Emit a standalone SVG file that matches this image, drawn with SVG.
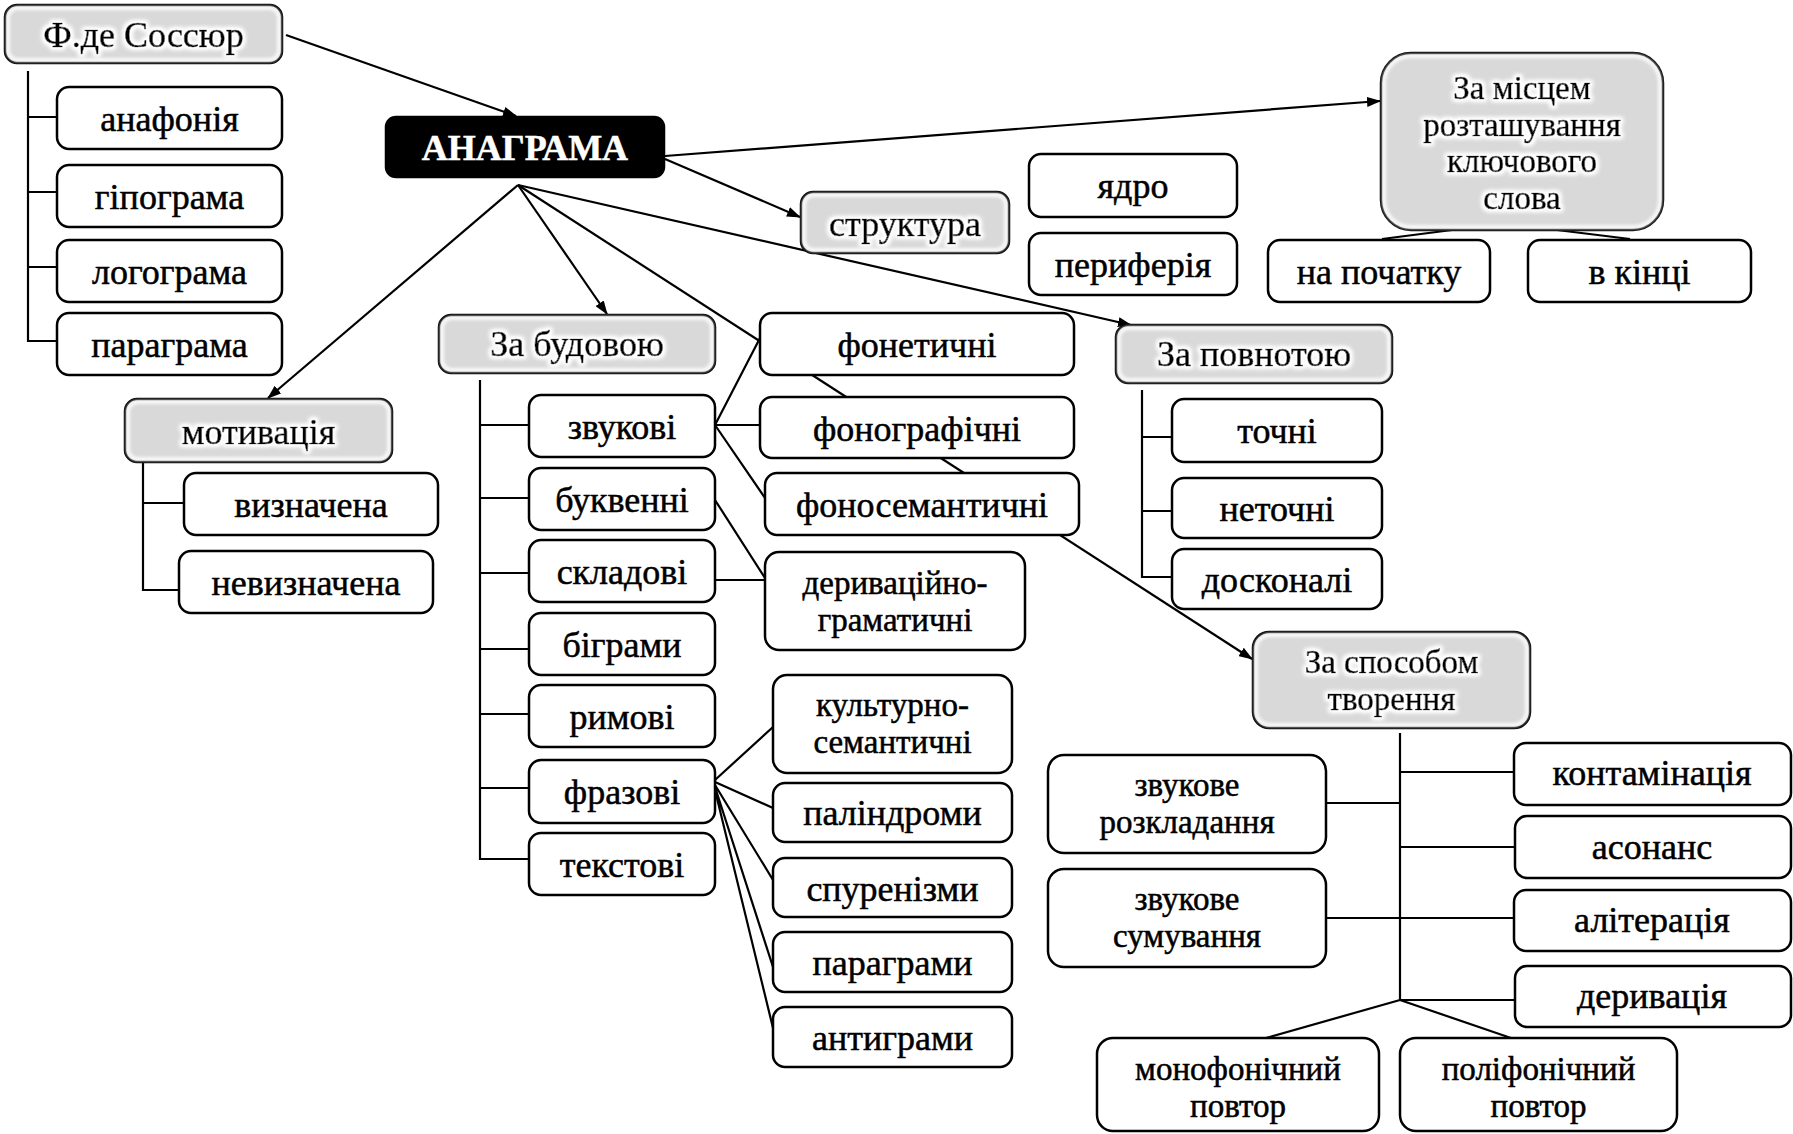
<svg xmlns="http://www.w3.org/2000/svg" width="1793" height="1134" viewBox="0 0 1793 1134">
<style>
  .bx { fill: #ffffff; stroke: #000; stroke-width: 2.5; }
  .gr { fill: #d9d9d9; stroke: #000; stroke-width: 2.5; }
  .rim { fill: none; stroke: #ffffff; stroke-width: 4; opacity: 0.85; filter: url(#soft); }
  .bk { fill: #000; stroke: #000; stroke-width: 2.5; }
  text { font-family: "Liberation Serif", "Times New Roman", serif; font-size: 36px; fill: #000; stroke: #000; stroke-width: 0.5; text-anchor: middle; }
  .ml { font-size: 33px; }
  .gt { filter: url(#halo); stroke-width: 0.7; }
  .wt { fill: #fff; stroke: #fff; font-weight: bold; }
  .ln { fill: none; stroke: #000; stroke-width: 2.2; }
  .ar { fill: none; stroke: #000; stroke-width: 2.2; marker-end: url(#ah); }
</style>
<defs>
  <marker id="ah" viewBox="0 0 14 10" refX="13" refY="5" markerWidth="14" markerHeight="10" markerUnits="userSpaceOnUse" orient="auto">
    <path d="M0,0 L14,5 L0,10 z" fill="#000"/>
  </marker>
  <filter id="halo" x="-10%" y="-30%" width="120%" height="160%">
    <feMorphology in="SourceAlpha" operator="dilate" radius="1.5" result="d"/>
    <feGaussianBlur in="d" stdDeviation="2" result="b"/>
    <feFlood flood-color="#ffffff"/>
    <feComposite in2="b" operator="in" result="w"/>
    <feMerge><feMergeNode in="w"/><feMergeNode in="w"/><feMergeNode in="SourceGraphic"/></feMerge>
  </filter>
  <filter id="soft" x="-5%" y="-10%" width="110%" height="120%">
    <feGaussianBlur stdDeviation="1.5"/>
  </filter>
</defs>
<rect width="1793" height="1134" fill="#fff"/>

<g id="connectors">
  <path class="ar" d="M518,185 L1252,659"/>
  <path class="ar" d="M286,35 L516,116"/>
  <path class="ar" d="M518,185 L268,398"/>
  <path class="ar" d="M518,185 L607,314"/>
  <path class="ar" d="M665,159 L800,217"/>
  <path class="ar" d="M665,156 L1380,101"/>
  <path class="ar" d="M518,185 L1131,325"/>
  <path class="ln" d="M28,71 V341 H57 M28,117 H57 M28,192 H57 M28,267 H57"/>
  <path class="ln" d="M143,462 V590 H179 M143,503 H184"/>
  <path class="ln" d="M480,380 V859 H529 M480,425 H529 M480,498 H529 M480,573 H529 M480,649 H529 M480,714 H529 M480,788 H529"/>
  <path class="ln" d="M715,425 L760,338 M715,425 H760 M715,425 L765,498"/>
  <path class="ln" d="M715,500 L765,578 M715,580 H765"/>
  <path class="ln" d="M715,780 L773,727 M715,782 L773,808 M715,785 L773,880 M715,787 L773,967 M715,790 L773,1028"/>
  <path class="ln" d="M1452,230 L1382,239 M1557,230 L1630,239"/>
  <path class="ln" d="M1142,390 V577 H1172 M1142,437 H1172 M1142,511 H1172"/>
  <path class="ln" d="M1400,733 V1000 M1400,772 H1514 M1326,803 H1400 M1400,847 H1515 M1326,918 H1514 M1400,1000 H1515 M1400,1000 L1266,1038 M1400,1000 L1511,1038"/>
</g>

<g id="n-sossur"><rect class="gr" x="5" y="5" width="277" height="58" rx="12"/><rect class="rim" x="8" y="8" width="271" height="52" rx="10"/><text class="gt" x="143.5" y="47">Ф.де Соссюр</text></g>
<g id="n-anafonia"><rect class="bx" x="57" y="87" width="225" height="62" rx="12"/><text x="169.5" y="131">анафонія</text></g>
<g id="n-hipohrama"><rect class="bx" x="57" y="165" width="225" height="62" rx="12"/><text x="169.5" y="209">гіпограма</text></g>
<g id="n-lohohrama"><rect class="bx" x="57" y="240" width="225" height="62" rx="12"/><text x="169.5" y="284">логограма</text></g>
<g id="n-parahrama"><rect class="bx" x="57" y="313" width="225" height="62" rx="12"/><text x="169.5" y="357">параграма</text></g>
<g id="n-anahrama"><rect class="bk" x="386" y="117" width="278" height="60" rx="10"/><text class="wt" x="525" y="160">АНАГРАМА</text></g>
<g id="n-motyvatsia"><rect class="gr" x="125" y="399" width="267" height="63" rx="12"/><rect class="rim" x="128" y="402" width="261" height="57" rx="10"/><text class="gt" x="258.5" y="444">мотивація</text></g>
<g id="n-vyznachena"><rect class="bx" x="184" y="473" width="254" height="62" rx="12"/><text x="311" y="517">визначена</text></g>
<g id="n-nevyznachena"><rect class="bx" x="179" y="551" width="254" height="62" rx="12"/><text x="306" y="595">невизначена</text></g>
<g id="n-budova"><rect class="gr" x="439" y="315" width="276" height="58" rx="12"/><rect class="rim" x="442" y="318" width="270" height="52" rx="10"/><text class="gt" x="577" y="356">За будовою</text></g>
<g id="n-zvukovi"><rect class="bx" x="529" y="395" width="186" height="62" rx="12"/><text x="622" y="439">звукові</text></g>
<g id="n-bukvenni"><rect class="bx" x="529" y="468" width="186" height="62" rx="12"/><text x="622" y="512">буквенні</text></g>
<g id="n-skladovi"><rect class="bx" x="529" y="540" width="186" height="62" rx="12"/><text x="622" y="584">складові</text></g>
<g id="n-bihramy"><rect class="bx" x="529" y="613" width="186" height="62" rx="12"/><text x="622" y="657">біграми</text></g>
<g id="n-rymovi"><rect class="bx" x="529" y="685" width="186" height="62" rx="12"/><text x="622" y="729">римові</text></g>
<g id="n-frazovi"><rect class="bx" x="529" y="760" width="186" height="63" rx="12"/><text x="622" y="804">фразові</text></g>
<g id="n-tekstovi"><rect class="bx" x="529" y="833" width="186" height="62" rx="12"/><text x="622" y="877">текстові</text></g>
<g id="n-fonetychni"><rect class="bx" x="760" y="313" width="314" height="62" rx="12"/><text x="917" y="357">фонетичні</text></g>
<g id="n-fonohrafichni"><rect class="bx" x="760" y="397" width="314" height="61" rx="12"/><text x="917" y="441">фонографічні</text></g>
<g id="n-fonosemantychni"><rect class="bx" x="765" y="473" width="314" height="62" rx="12"/><text x="922" y="517">фоносемантичні</text></g>
<g id="n-deryvatsiino"><rect class="bx" x="765" y="552" width="260" height="98" rx="14"/><text class="ml" x="895" y="594">деривацiйно-<tspan x="895" dy="36.6">граматичні</tspan></text></g>
<g id="n-kulturno"><rect class="bx" x="773" y="675" width="239" height="98" rx="14"/><text class="ml" x="892.5" y="716">культурно-<tspan x="892.5" dy="36.6">семантичні</tspan></text></g>
<g id="n-palindromy"><rect class="bx" x="773" y="783" width="239" height="59" rx="12"/><text x="892.5" y="825">паліндроми</text></g>
<g id="n-spurenizmy"><rect class="bx" x="773" y="858" width="239" height="59" rx="12"/><text x="892.5" y="901">спуренізми</text></g>
<g id="n-parahramy"><rect class="bx" x="773" y="932" width="239" height="60" rx="12"/><text x="892.5" y="975">параграми</text></g>
<g id="n-antyhramy"><rect class="bx" x="773" y="1007" width="239" height="60" rx="12"/><text x="892.5" y="1050">антиграми</text></g>
<g id="n-struktura"><rect class="gr" x="801" y="192" width="208" height="61" rx="12"/><rect class="rim" x="804" y="195" width="202" height="55" rx="10"/><text class="gt" x="905" y="236">структура</text></g>
<g id="n-yadro"><rect class="bx" x="1029" y="154" width="208" height="63" rx="12"/><text x="1133" y="198">ядро</text></g>
<g id="n-peryferia"><rect class="bx" x="1029" y="233" width="208" height="62" rx="12"/><text x="1133" y="277">периферія</text></g>
<g id="n-mistse"><rect class="gr" x="1381" y="53" width="282" height="177" rx="30"/><rect class="rim" x="1384" y="56" width="276" height="171" rx="27"/><text class="gt ml" x="1522" y="99">За місцем<tspan x="1522" dy="36.6">розташування</tspan><tspan x="1522" dy="36.6">ключового</tspan><tspan x="1522" dy="36.6">слова</tspan></text></g>
<g id="n-na-pochatku"><rect class="bx" x="1268" y="240" width="222" height="62" rx="12"/><text x="1379" y="284">на початку</text></g>
<g id="n-v-kintsi"><rect class="bx" x="1528" y="240" width="223" height="62" rx="12"/><text x="1639.5" y="284">в кінці</text></g>
<g id="n-povnota"><rect class="gr" x="1116" y="325" width="276" height="58" rx="12"/><rect class="rim" x="1119" y="328" width="270" height="52" rx="10"/><text class="gt" x="1254" y="366">За повнотою</text></g>
<g id="n-tochni"><rect class="bx" x="1172" y="399" width="210" height="63" rx="12"/><text x="1277" y="443">точні</text></g>
<g id="n-netochni"><rect class="bx" x="1172" y="478" width="210" height="60" rx="12"/><text x="1277" y="521">неточні</text></g>
<g id="n-doskonali"><rect class="bx" x="1172" y="549" width="210" height="60" rx="12"/><text x="1277" y="592">досконалі</text></g>
<g id="n-sposib"><rect class="gr" x="1253" y="632" width="277" height="96" rx="16"/><rect class="rim" x="1256" y="635" width="271" height="90" rx="14"/><text class="gt ml" x="1391.5" y="673">За способом<tspan x="1391.5" dy="36.6">творення</tspan></text></g>
<g id="n-rozkladannia"><rect class="bx" x="1048" y="755" width="278" height="98" rx="16"/><text class="ml" x="1187" y="796">звукове<tspan x="1187" dy="36.6">розкладання</tspan></text></g>
<g id="n-sumuvannia"><rect class="bx" x="1048" y="869" width="278" height="98" rx="16"/><text class="ml" x="1187" y="910">звукове<tspan x="1187" dy="36.6">сумування</tspan></text></g>
<g id="n-kontaminatsia"><rect class="bx" x="1514" y="743" width="277" height="62" rx="12"/><text x="1652" y="785">контамінація</text></g>
<g id="n-asonans"><rect class="bx" x="1515" y="816" width="276" height="62" rx="12"/><text x="1652" y="859">асонанс</text></g>
<g id="n-aliteratsia"><rect class="bx" x="1514" y="890" width="277" height="61" rx="12"/><text x="1652" y="932">алітерація</text></g>
<g id="n-deryvatsia"><rect class="bx" x="1515" y="966" width="276" height="61" rx="12"/><text x="1652" y="1008">деривація</text></g>
<g id="n-monofonichnyi"><rect class="bx" x="1097" y="1038" width="282" height="93" rx="16"/><text class="ml" x="1238" y="1080">монофонічний<tspan x="1238" dy="36.6">повтор</tspan></text></g>
<g id="n-polifonichnyi"><rect class="bx" x="1400" y="1038" width="277" height="93" rx="16"/><text class="ml" x="1538.5" y="1080">поліфонічний<tspan x="1538.5" dy="36.6">повтор</tspan></text></g>
</svg>
